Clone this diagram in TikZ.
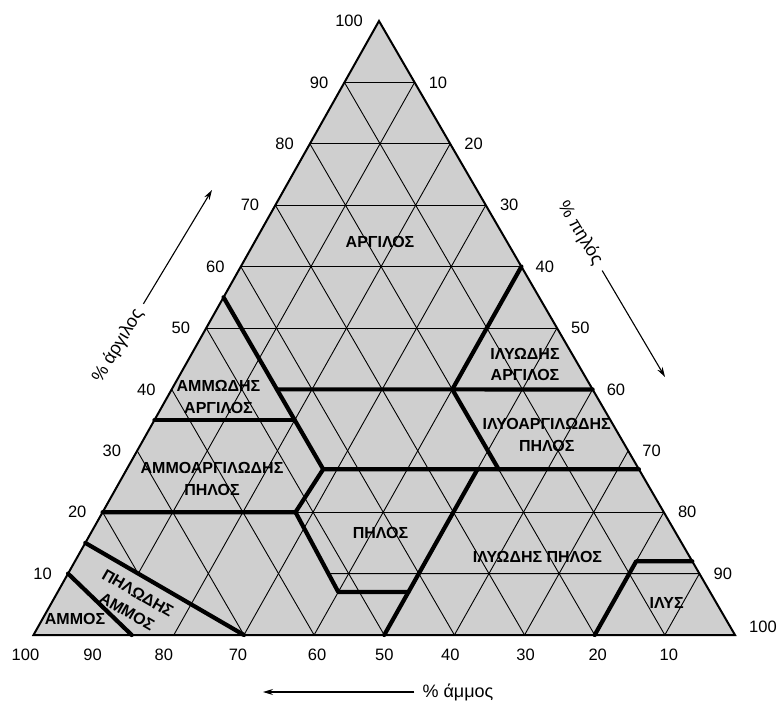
\documentclass[tikz,border=0pt]{standalone}
\usepackage{fontspec}
\setmainfont{Liberation Sans}
\usetikzlibrary{arrows.meta}
\begin{document}
\begin{tikzpicture}[x=1pt,y=-1pt,
    thinline/.style={line width=0.9pt},
    classline/.style={line width=4.2pt,line join=round,line cap=round},
    outerline/.style={line width=2pt,line join=miter},
    numlabel/.style={font=\fontsize{16.5}{18}\selectfont,inner sep=0pt},
    classlabel/.style={font=\fontsize{16}{21.5}\selectfont\bfseries,align=center,inner sep=0pt},
    axistitle/.style={font=\fontsize{18}{20}\selectfont,inner ysep=0pt,inner xsep=8pt},
    axisarrow/.style={line width=1.1pt,-{Stealth[length=10pt,width=6pt]}}]
  \useasboundingbox (0,0) rectangle (777,703);
  \coordinate (A) at (379,21);
  \coordinate (L) at (33.5,635);
  \coordinate (R) at (735,635);
  \fill[black!19] (A) -- (L) -- (R) -- cycle;

  \foreach \d [evaluate=\d as \w using \d/100, evaluate=\d as \c using 1-\d/100] in {10,20,...,70}
    \draw[thinline] (barycentric cs:A=\c,L=\w) -- (barycentric cs:R=\c,L=\w);
  \foreach \s [evaluate=\s as \w using \s/100, evaluate=\s as \c using 1-\s/100] in {20,30,...,90}
    \draw[thinline] (barycentric cs:R=\w,L=\c) -- (barycentric cs:R=\w,A=\c);
  \foreach \a [evaluate=\a as \w using \a/100, evaluate=\a as \c using 1-\a/100] in {20,50,60,70,80,90}
    \draw[thinline] (barycentric cs:A=\w,L=\c) -- (barycentric cs:A=\w,R=\c);
  \draw[thinline] (barycentric cs:A=.2,L=.8) -- (barycentric cs:A=.1,R=.1,L=.8) -- (barycentric cs:A=.9,R=.1);
  \draw[thinline] (barycentric cs:A=.1,R=.371,L=.529) -- (barycentric cs:A=.1,R=.9);

  \coordinate (c55) at (barycentric cs:A=.55,L=.45);
  \coordinate (c35) at (barycentric cs:A=.35,L=.65);
  \coordinate (c35s) at (barycentric cs:A=.35,R=.2,L=.45);
  \coordinate (c40s) at (barycentric cs:A=.4,R=.15,L=.45);
  \coordinate (c40m) at (barycentric cs:A=.4,R=.4,L=.2);
  \coordinate (c40r) at (barycentric cs:A=.4,R=.6);
  \coordinate (c60r) at (barycentric cs:A=.6,R=.4);
  \coordinate (c27s) at (barycentric cs:A=.27,R=.28,L=.45);
  \coordinate (c27m) at (barycentric cs:A=.27,R=.53,L=.2);
  \coordinate (c27i) at (barycentric cs:A=.27,R=.5,L=.23);
  \coordinate (c27r) at (barycentric cs:A=.27,R=.73);
  \coordinate (c20) at (barycentric cs:A=.2,L=.8);
  \coordinate (c20s) at (barycentric cs:A=.2,R=.275,L=.525);
  \coordinate (c7s) at (barycentric cs:A=.07,R=.4,L=.53);
  \coordinate (c7i) at (barycentric cs:A=.07,R=.5,L=.43);
  \coordinate (i50) at (barycentric cs:R=.5,L=.5);
  \coordinate (i80) at (barycentric cs:R=.8,L=.2);
  \coordinate (c12i) at (barycentric cs:A=.12,R=.8,L=.08);
  \coordinate (c12r) at (barycentric cs:A=.12,R=.88);
  \coordinate (c15) at (barycentric cs:A=.15,L=.85);
  \coordinate (s70) at (barycentric cs:R=.3,L=.7);
  \coordinate (c10) at (barycentric cs:A=.1,L=.9);
  \coordinate (s86) at (barycentric cs:R=.14,L=.86);

  \draw[classline] (c55) -- (c27s);
  \draw[classline] (c35) -- (c35s);
  \draw[classline] (c40s) -- (c40r);
  \draw[classline] (c60r) -- (c40m) -- (c27m);
  \draw[classline] (c20) -- (c20s) -- (c27s) -- (c27r);
  \draw[classline] (c20s) -- (c7s) -- (c7i);
  \draw[classline] (i50) -- (c27i);
  \draw[classline] (i80) -- (c12i) -- (c12r);
  \draw[classline] (c15) -- (s70);
  \draw[classline] (c10) -- (s86);
  \draw[outerline] (A) -- (L) -- (R) -- cycle;

  \foreach \a [evaluate=\a as \w using \a/100, evaluate=\a as \c using 1-\a/100] in {10,20,...,100}
    \node[numlabel,anchor=east,xshift=-16pt] (clay\a) at (barycentric cs:A=\w,L=\c) {\a};
  \foreach \s [evaluate=\s as \w using \s/100, evaluate=\s as \c using 1-\s/100] in {10,20,...,90}
    \node[numlabel,anchor=west,xshift=14pt] (silt\s) at (barycentric cs:A=\c,R=\w) {\s};
  \node[numlabel,anchor=west,xshift=14pt,yshift=8pt] (silt100) at (R) {100};
  \foreach \d/\dx [evaluate=\d as \w using \d/100, evaluate=\d as \c using 1-\d/100] in {100/-8,90/-11,80/-10,70/-6,60/3,50/0,40/-4,30/1,20/3,10/4}
    \node[numlabel,anchor=north,xshift=\dx,yshift=-14pt] (sand\d) at (barycentric cs:R=\c,L=\w) {\d};

  \node[classlabel] (clay) at (380,242) {ΑΡΓΙΛΟΣ};
  \node[classlabel] (siltyclay) at (525,364.5) {ΙΛΥΩΔΗΣ\\ΑΡΓΙΛΟΣ};
  \node[classlabel] (sandyclay) at (218.5,397) {ΑΜΜΩΔΗΣ\\ΑΡΓΙΛΟΣ};
  \node[classlabel] (sandyclayloam) at (212,479) {ΑΜΜΟΑΡΓΙΛΩΔΗΣ\\ΠΗΛΟΣ};
  \node[classlabel] (siltyclayloam) at (546.7,435) {ΙΛΥΟΑΡΓΙΛΩΔΗΣ\\ΠΗΛΟΣ};
  \node[classlabel] (loam) at (380.5,533) {ΠΗΛΟΣ};
  \node[classlabel] (siltloam) at (537.5,556.7) {ΙΛΥΩΔΗΣ ΠΗΛΟΣ};
  \node[classlabel] (silt) at (666.7,603) {ΙΛΥΣ};
  \node[classlabel] (sand) at (75,619) {ΑΜΜΟΣ};
  \node[classlabel,rotate=-30] (loamysand) at (132.5,602.5) {ΠΗΛΩΔΗΣ\\ΑΜΜΟΣ};

  \node[axistitle,rotate=59] (claytitle) at (118,346) {\% άργιλος};
  \coordinate (claytip) at (212,190);
  \draw[axisarrow] (claytitle) -- (claytip);
  \node[axistitle,rotate=-59] (silttitle) at (580,233) {\% πηλός};
  \coordinate (silttip) at (665,377);
  \draw[axisarrow] (silttitle) -- (silttip);
  \node[axistitle] (sandtitle) at (458,692) {\% άμμος};
  \coordinate (sandtip) at (263,692);
  \draw[axisarrow] (sandtitle) -- (sandtip);
\end{tikzpicture}
\end{document}
